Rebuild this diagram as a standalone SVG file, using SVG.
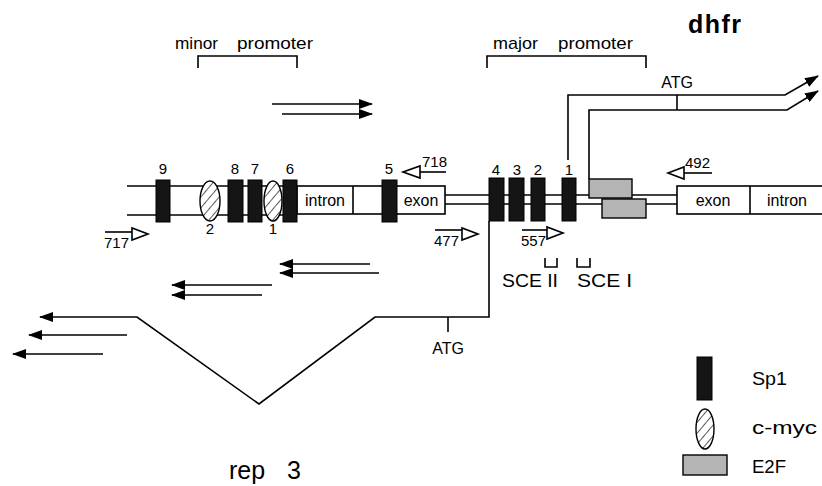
<svg xmlns="http://www.w3.org/2000/svg" width="822" height="486" viewBox="0 0 822 486">
<style>
.ln{stroke:#000;stroke-width:1.6;fill:none}
.sp1{fill:#151515;stroke:#000;stroke-width:1}
.myc{fill:url(#hatch);stroke:#000;stroke-width:1.4}
.e2f{fill:#b4b4b4;stroke:#000;stroke-width:1.4}
.box{fill:#fff;stroke:#000;stroke-width:1.6}
.pr{fill:#fff;stroke:#000;stroke-width:1.6}
.t{font-family:"Liberation Sans",Arial,sans-serif;fill:#000}
.s14{font-size:14px}
.s15{font-size:15px}
.s16{font-size:16px}
.s17{font-size:17px}
.s18{font-size:18px}
.s19{font-size:19px}
.mid{text-anchor:middle}
</style>
<defs>
<pattern id="hatch" width="7" height="7" patternUnits="userSpaceOnUse" patternTransform="rotate(40)">
<rect width="7" height="7" fill="#fff"/>
<line x1="0" y1="0" x2="0" y2="7" stroke="#000" stroke-width="1.3"/>
</pattern>
<marker id="ah" markerUnits="userSpaceOnUse" markerWidth="14" markerHeight="10" refX="13" refY="5" orient="auto">
<path d="M0,0 L14,5 L0,10 z" fill="#000"/>
</marker>
</defs>

<!-- title texts -->
<text class="t" x="688" y="33" font-size="25" font-weight="bold" letter-spacing="1.5">dhfr</text>
<text class="t" x="229" y="479" font-size="25">rep</text>
<text class="t" x="287" y="479" font-size="25">3</text>

<!-- promoters -->
<g id="minor-promoter">
<path class="ln" d="M198,68 V56 H297 V68"/>
<text class="t s17" x="175" y="49" textLength="43" lengthAdjust="spacingAndGlyphs">minor</text>
<text class="t s17" x="237" y="49" textLength="76" lengthAdjust="spacingAndGlyphs">promoter</text>
</g>
<g id="major-promoter">
<path class="ln" d="M487,68 V56 H646 V68"/>
<text class="t s17" x="493" y="49" textLength="45" lengthAdjust="spacingAndGlyphs">major</text>
<text class="t s17" x="558" y="49" textLength="75" lengthAdjust="spacingAndGlyphs">promoter</text>
</g>

<!-- gene backbone -->
<g id="backbone">
<line class="ln" x1="127" y1="186" x2="297" y2="186"/>
<line class="ln" x1="127" y1="215" x2="297" y2="215"/>
<rect class="box" x="297" y="186" width="148" height="28"/>
<line class="ln" x1="353" y1="186" x2="353" y2="214"/>
<text class="t s16 mid" x="325" y="206">intron</text>
<text class="t s16 mid" x="421" y="206">exon</text>
<line class="ln" x1="445" y1="195" x2="677" y2="195"/>
<line class="ln" x1="445" y1="204" x2="677" y2="204"/>
<rect class="box" x="677" y="186" width="160" height="28"/>
<line class="ln" x1="750" y1="186" x2="750" y2="214"/>
<text class="t s16 mid" x="713" y="206">exon</text>
<text class="t s16 mid" x="787" y="206">intron</text>
</g>

<!-- connectors -->
<g id="connectors">
<path class="ln" d="M568,160 V95 H785 L818,76" marker-end="url(#ah)"/>
<path class="ln" d="M589,179 V110 H787 L818,91" marker-end="url(#ah)"/>
<line class="ln" x1="677" y1="95" x2="677" y2="110"/>
<path class="ln" d="M489,221 V317 H375 L259,404 L137,317 H40" marker-end="url(#ah)"/>
<line class="ln" x1="448" y1="317" x2="448" y2="332"/>
<line class="ln" x1="127" y1="335" x2="29" y2="335" marker-end="url(#ah)"/>
<line class="ln" x1="103" y1="354" x2="13" y2="354" marker-end="url(#ah)"/>
<line class="ln" x1="272" y1="104" x2="372" y2="104" marker-end="url(#ah)"/>
<line class="ln" x1="282" y1="114" x2="372" y2="114" marker-end="url(#ah)"/>
<line class="ln" x1="370" y1="264" x2="280" y2="264" marker-end="url(#ah)"/>
<line class="ln" x1="379" y1="273" x2="280" y2="273" marker-end="url(#ah)"/>
<line class="ln" x1="272" y1="285" x2="172" y2="285" marker-end="url(#ah)"/>
<line class="ln" x1="262" y1="295" x2="172" y2="295" marker-end="url(#ah)"/>
<path class="ln" d="M545,258 V267 H557 V258"/>
<path class="ln" d="M577,258 V267 H590 V258"/>
</g>
<text class="t s16 mid" x="677" y="88">ATG</text>
<text class="t s16 mid" x="448" y="354">ATG</text>
<text class="t s19" x="502" y="287" textLength="56" lengthAdjust="spacingAndGlyphs">SCE II</text>
<text class="t s19" x="577" y="287" textLength="55" lengthAdjust="spacingAndGlyphs">SCE I</text>

<!-- Sp1 and c-myc sites -->
<g id="sp1-9"><rect class="sp1" x="156" y="180" width="14" height="42"/><text class="t s15 mid" x="163" y="174">9</text></g>
<g id="myc-2"><ellipse class="myc" cx="210" cy="201" rx="10" ry="20"/><text class="t s15 mid" x="210" y="234">2</text></g>
<g id="sp1-8"><rect class="sp1" x="228" y="180" width="15" height="42"/><text class="t s15 mid" x="235" y="174">8</text></g>
<g id="sp1-7"><rect class="sp1" x="248" y="180" width="14" height="42"/><text class="t s15 mid" x="255" y="174">7</text></g>
<g id="myc-1"><ellipse class="myc" cx="273" cy="201" rx="9" ry="20"/><text class="t s15 mid" x="273" y="234">1</text></g>
<g id="sp1-6"><rect class="sp1" x="283" y="180" width="14" height="42"/><text class="t s15 mid" x="290" y="174">6</text></g>
<g id="sp1-5"><rect class="sp1" x="382" y="180" width="15" height="42"/><text class="t s15 mid" x="389" y="174">5</text></g>
<g id="sp1-4"><rect class="sp1" x="489" y="178" width="15" height="43"/><text class="t s15 mid" x="496" y="175">4</text></g>
<g id="sp1-3"><rect class="sp1" x="509" y="178" width="15" height="43"/><text class="t s15 mid" x="517" y="175">3</text></g>
<g id="sp1-2"><rect class="sp1" x="531" y="178" width="14" height="43"/><text class="t s15 mid" x="538" y="175">2</text></g>
<g id="sp1-1"><rect class="sp1" x="562" y="178" width="14" height="43"/><text class="t s15 mid" x="569" y="175">1</text></g>

<!-- E2F sites -->
<g id="e2f-a"><rect class="e2f" x="589" y="179" width="43" height="19"/></g>
<g id="e2f-b"><rect class="e2f" x="602" y="199" width="44" height="19"/></g>

<!-- primers -->
<g id="p718"><path class="pr" d="M403,172 L420,166 L420,178 z"/><line class="ln" x1="420" y1="172" x2="446" y2="172"/><text class="t s15" x="422" y="167">718</text></g>
<g id="p492"><path class="pr" d="M668,173 L684,167 L684,179 z"/><line class="ln" x1="684" y1="173" x2="712" y2="173"/><text class="t s15" x="685" y="168">492</text></g>
<g id="p717"><line class="ln" x1="105" y1="232" x2="133" y2="232"/><path class="pr" d="M148,234 L132,228 L132,240 z"/><text class="t s15" x="104" y="248">717</text></g>
<g id="p477"><line class="ln" x1="435" y1="230" x2="463" y2="230"/><path class="pr" d="M478,234 L462,228 L462,240 z"/><text class="t s15" x="434" y="246">477</text></g>
<g id="p557"><line class="ln" x1="522" y1="230" x2="548" y2="230"/><path class="pr" d="M563,233 L547,227 L547,239 z"/><text class="t s15" x="521" y="246">557</text></g>

<!-- legend -->
<g id="legend-sp1"><rect class="sp1" x="697" y="357" width="15" height="43"/><text class="t s19" x="752" y="385" textLength="35" lengthAdjust="spacingAndGlyphs">Sp1</text></g>
<g id="legend-myc"><ellipse class="myc" cx="705" cy="429" rx="9" ry="20"/><text class="t s19" x="752" y="434" textLength="65" lengthAdjust="spacingAndGlyphs">c-myc</text></g>
<g id="legend-e2f"><rect class="e2f" x="683" y="455" width="44" height="20"/><text class="t s19" x="752" y="473" textLength="34" lengthAdjust="spacingAndGlyphs">E2F</text></g>
</svg>
